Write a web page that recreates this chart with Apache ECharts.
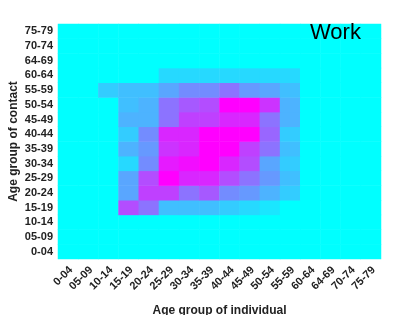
<!DOCTYPE html>
<html>
<head>
<meta charset="utf-8">
<script src="https://cdn.jsdelivr.net/npm/echarts@6/dist/echarts.min.js"></script>
<style>html,body{margin:0;padding:0;background:#fff}#c{width:420px;height:315px}</style>
</head>
<body>
<div id="c"></div>
<script>
// Category labels (as printed in the reference, including "64-69")
const ageGroups = ['0-04','05-09','10-14','15-19','20-24','25-29','30-34','35-39','40-44','45-49','50-54','55-59','60-64','64-69','70-74','75-79'];

// Contact intensity, 0 = cyan, 1 = magenta; one array per contact age row, columns = individual age groups
const row_0_04  = [0,0,0,0,0,0,0,0,0,0,0,0,0,0,0,0];
const row_05_09 = [0,0,0,0,0,0,0,0,0,0,0,0,0,0,0,0];
const row_10_14 = [0,0,0,0,0,0,0,0,0,0,0,0,0,0,0,0];
const row_15_19 = [0,0,0,0.70,0.55,0.25,0.25,0.25,0.20,0.15,0.10,0,0,0,0,0];
const row_20_24 = [0,0,0,0.35,0.75,0.75,0.55,0.65,0.45,0.40,0.30,0.20,0,0,0,0];
const row_25_29 = [0,0,0,0.35,0.70,1.00,0.85,0.85,0.70,0.55,0.40,0.25,0,0,0,0];
const row_30_34 = [0,0,0,0.15,0.45,0.90,0.95,1.00,0.85,0.70,0.35,0.20,0,0,0,0];
const row_35_39 = [0,0,0,0.30,0.40,0.80,0.85,1.00,1.00,0.75,0.55,0.25,0,0,0,0];
const row_40_44 = [0,0,0,0.20,0.45,0.85,0.85,1.00,1.00,1.00,0.60,0.20,0,0,0,0];
const row_45_49 = [0,0,0,0.30,0.30,0.55,0.75,0.75,0.85,0.85,0.55,0.30,0,0,0,0];
const row_50_54 = [0,0,0,0.25,0.30,0.55,0.65,0.70,1.00,1.00,0.80,0.30,0,0,0,0];
const row_55_59 = [0,0,0.20,0.25,0.25,0.35,0.45,0.45,0.55,0.40,0.35,0.25,0,0,0,0];
const row_60_64 = [0,0,0,0,0,0.15,0.15,0.15,0.15,0.15,0.15,0.15,0,0,0,0];
const row_64_69 = [0,0,0,0,0,0,0,0,0,0,0,0,0,0,0,0];
const row_70_74 = [0,0,0,0,0,0,0,0,0,0,0,0,0,0,0,0];
const row_75_79 = [0,0,0,0,0,0,0,0,0,0,0,0,0,0,0,0];

const rows = [row_0_04,row_05_09,row_10_14,row_15_19,row_20_24,row_25_29,row_30_34,row_35_39,
              row_40_44,row_45_49,row_50_54,row_55_59,row_60_64,row_64_69,row_70_74,row_75_79];

const data = [];
rows.forEach((r, yi) => r.forEach((v, xi) => data.push([xi, yi, v])));

const FONT = '"Liberation Sans", Arial, sans-serif';
const chart = echarts.init(document.getElementById('c'), null, {renderer: 'canvas'});
chart.setOption({
  animation: false,
  backgroundColor: '#ffffff',
  title: {
    text: 'Work', left: 310, top: 22, padding: 0,
    textStyle: {fontFamily: FONT, fontSize: 22, fontWeight: 'normal', color: '#000'}
  },
  grid: {left: 58, right: 39, top: 24, bottom: 56, containLabel: false, outerBoundsMode: 'none'},
  xAxis: {
    type: 'category', data: ageGroups,
    name: 'Age group of individual', nameLocation: 'middle', nameGap: 46, nameMoveOverlap: false,
    nameTextStyle: {fontFamily: FONT, fontSize: 12, fontWeight: 'bold', color: '#222'},
    axisLine: {show: false}, axisTick: {show: false}, splitArea: {show: false}, splitLine: {show: false},
    axisLabel: {rotate: 45, interval: 0, margin: 12, padding: [0, -4, 0, 0], fontFamily: FONT, fontSize: 11, fontWeight: 'bold', color: '#222'}
  },
  yAxis: {
    type: 'category', data: ageGroups,
    name: 'Age group of contact', nameLocation: 'middle', nameGap: 38, nameMoveOverlap: false,
    nameTextStyle: {fontFamily: FONT, fontSize: 12, fontWeight: 'bold', color: '#222'},
    axisLine: {show: false}, axisTick: {show: false}, splitArea: {show: false}, splitLine: {show: false},
    axisLabel: {interval: 0, margin: 5, fontFamily: FONT, fontSize: 11, fontWeight: 'bold', color: '#222'}
  },
  visualMap: {show: false, min: 0, max: 1, dimension: 2, inRange: {color: ['#00ffff', '#ff00ff']}},
  series: [{type: 'heatmap', data: data, itemStyle: {borderWidth: 0}, emphasis: {disabled: true}}]
});
</script>
</body>
</html>
